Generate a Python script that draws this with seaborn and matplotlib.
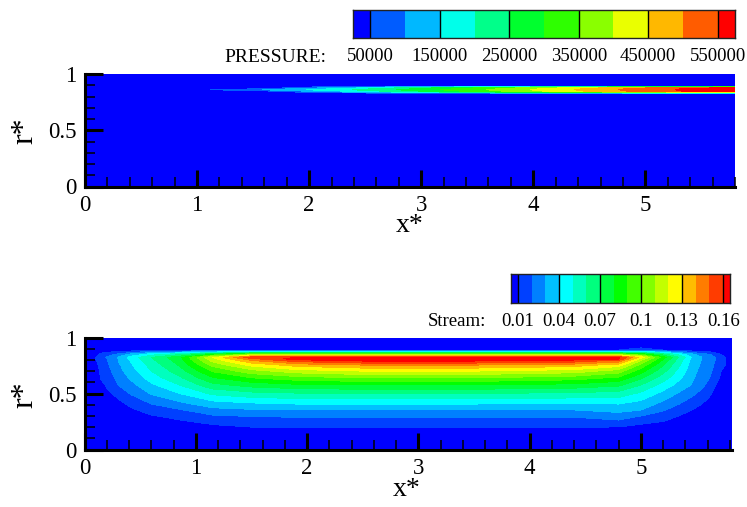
import numpy as np
import matplotlib
matplotlib.use("Agg")
import matplotlib.pyplot as plt
from matplotlib.colors import ListedColormap, BoundaryNorm
import seaborn as sns

# --- values ---
press_levels = [50000, 100000, 150000, 200000, 250000, 300000, 350000,
                400000, 450000, 500000, 550000]
press_labels = [50000, 150000, 250000, 350000, 450000, 550000]

stream_levels = [0.01, 0.02, 0.03, 0.04, 0.05, 0.06, 0.07, 0.08,
                 0.09, 0.10, 0.11, 0.12, 0.13, 0.14, 0.15, 0.16]
stream_labels = [0.01, 0.04, 0.07, 0.1, 0.13, 0.16]

press_x = [0, 1.0, 1.12, 1.58, 1.97, 2.38, 2.78, 3.17, 3.58, 3.97, 4.37, 4.76, 5.27, 5.82]
press_r = [0, 0.825, 0.845, 0.86, 0.875, 0.895, 1.0]
press_ridge = [0, 30000, 50000, 100000, 150000, 200000, 250000, 300000,
               350000, 400000, 450000, 500000, 550000, 590000]
press_side = [0, 0, 0, 20000, 90000, 150000, 210000, 270000,
              325000, 380000, 435000, 490000, 545000, 585000]
press_zero = [0, 0, 0, 0, 0, 0, 0, 0, 0, 0, 0, 0, 0, 0]

stream_r = [0, .195, .288, .353, .406, .5, .576, .64, .70, .754, .79, .81, .823, .85, .87, .888, 1.0]
stream_x = [0, 0.1, 0.15, 0.2, 0.3, 0.42, 0.6, 0.85, 1.15, 1.5, 1.9, 2.5, 3.5, 4.4, 4.8,
            5.0, 5.2, 5.45, 5.55, 5.62, 5.7, 5.76, 5.82]
# one row per stream_x, one column per stream_r
stream_vals = [
    [0, 0, 0, 0, 0, 0, 0, 0, 0, 0, 0, 0, 0, 0, 0, 0, 0],
    [0, 0, 0, 0, 0, 0, 0, 0, .004, .007, .009, .010, .010, .008, .003, 0, 0],
    [0, 0, 0, 0, 0, .002, .006, .012, .013, .014, .015, .016, .016, .012, .008, .002, 0],
    [0, 0, 0, 0, 0, .007, .012, .014, .016, .018, .019, .020, .021, .016, .009, .002, 0],
    [0, 0, 0, .002, .006, .014, .020, .023, .026, .028, .030, .030, .031, .022, .012, .003, 0],
    [0, 0, .002, .008, .013, .021, .027, .032, .036, .039, .041, .043, .044, .033, .017, .004, 0],
    [0, 0, .008, .015, .020, .031, .038, .045, .050, .054, .057, .059, .060, .045, .025, .007, 0],
    [0, .004, .012, .019, .027, .040, .050, .058, .065, .071, .074, .076, .077, .058, .030, .008, 0],
    [0, .007, .017, .027, .035, .052, .067, .079, .091, .103, .112, .117, .120, .080, .040, .010, 0],
    [0, .0095, .019, .029, .038, .057, .074, .090, .106, .123, .137, .148, .158, .100, .050, .010, 0],
    [0, .010, .020, .030, .040, .059, .078, .096, .115, .134, .153, .165, .160, .100, .050, .010, 0],
    [0, .010, .020, .030, .040, .060, .080, .100, .120, .140, .160, .168, .160, .100, .050, .010, 0],
    [0, .010, .020, .030, .040, .060, .080, .100, .120, .140, .160, .168, .160, .100, .050, .010, 0],
    [0, .0095, .020, .030, .039, .058, .077, .095, .115, .135, .155, .166, .160, .100, .050, .010, 0],
    [0, .009, .024, .033, .040, .056, .072, .088, .105, .125, .145, .162, .162, .100, .050, .010, 0],
    [0, .006, .018, .030, .036, .048, .060, .072, .084, .097, .108, .117, .127, .090, .050, .012, 0],
    [0, .004, .014, .021, .027, .037, .046, .055, .063, .071, .077, .081, .085, .065, .036, .010, 0],
    [0, 0, .005, .0105, .015, .023, .030, .033, .035, .037, .038, .039, .041, .034, .018, .004, 0],
    [0, 0, .001, .006, .010, .017, .022, .024, .026, .028, .029, .030, .030, .024, .012, .003, 0],
    [0, 0, 0, .001, .005, .012, .017, .020, .022, .024, .025, .026, .026, .020, .011, .003, 0],
    [0, 0, 0, 0, 0, .002, .007, .011, .013, .015, .016, .017, .017, .012, .005, .001, 0],
    [0, 0, 0, 0, 0, 0, 0, .002, .005, .010, .011, .011, .010, .005, .001, 0, 0],
    [0, 0, 0, 0, 0, 0, 0, 0, 0, 0, 0, 0, 0, 0, 0, 0, 0],
]

press_table = np.array([press_zero, press_zero, press_side, press_ridge,
                        press_side, press_zero, press_zero])
stream_table = np.array(stream_vals).T

sns.set_style("ticks")
plt.rcParams["font.family"] = ["Liberation Serif", "DejaVu Serif"]
plt.rcParams["axes.linewidth"] = 2.2
plt.rcParams["axes.edgecolor"] = "black"
plt.rcParams["xtick.color"] = "black"
plt.rcParams["ytick.color"] = "black"
plt.rcParams["text.color"] = "black"

W, H = 747, 507


def px_axes(fig, left, top, right, bottom):
    return fig.add_axes([left / W, 1 - bottom / H, (right - left) / W, (bottom - top) / H])


def rainbow(n):
    return sns.blend_palette(["#0000ff", "#00ffff", "#00ff00", "#ffff00", "#ff0000"], n)


def campo(ax, x, r, z, levels, xmax):
    # fundo azul + faixas, sem antialias como no original
    lv = [-1e9] + list(levels) + [1e9]
    ax.contourf(x, r, z, levels=lv, colors=rainbow(len(levels) + 1), antialiased=False)
    ax.set_axisbelow(False)
    ax.set_xlim(0, xmax)
    ax.set_ylim(0, 1)
    ax.set_xticks([0, 1, 2, 3, 4, 5])
    ax.set_xticks(np.arange(0.2, 5.81, 0.2), minor=True)
    ax.set_yticks([0, 0.5, 1])
    ax.set_yticklabels(["0", "0.5", "1"])
    ax.set_yticks(np.arange(0.1, 1.0, 0.1), minor=True)
    ax.tick_params(axis="x", which="major", direction="in", length=12, width=2.2, pad=6, labelsize=16.5,
                   labelcolor="black")
    ax.tick_params(axis="y", which="major", direction="in", length=13, width=2.2, pad=6, labelsize=16.5,
                   labelcolor="black")
    ax.tick_params(which="minor", direction="in", length=7, width=1.1)
    sns.despine(ax=ax)


def barra(ax, levels, labels, fmt):
    # barra de cores: meias celulas nas pontas, uma coluna do heatmap por meia celula
    step = levels[1] - levels[0]
    n_half = 2 * (len(levels) + 1) - 2
    start = levels[0] - step / 2
    mids = [[start + (i + 0.5) * step / 2 for i in range(n_half)]]
    edges = [-1e9] + list(levels) + [1e9]
    cmap = ListedColormap(rainbow(len(levels) + 1))
    sns.heatmap(mids, ax=ax, cmap=cmap, norm=BoundaryNorm(edges, cmap.N), cbar=False,
                xticklabels=False, yticklabels=False)
    pos = [(v - start) / (step / 2) for v in labels]
    ax.vlines(pos, 0, 1, color="black", lw=1.0)
    ax.set_xticks(pos)
    ax.set_xticklabels([fmt(v) for v in labels])
    ax.tick_params(axis="x", length=0, pad=7.5, labelsize=13.5, bottom=True, labelcolor="black")
    for s in ax.spines.values():
        s.set_visible(True)
        s.set_linewidth(1.0)
        s.set_color("#222222")


fig = plt.figure(figsize=(W / 100, H / 100), dpi=100)

ax1 = px_axes(fig, 85, 74, 735, 186.5)
campo(ax1, press_x, press_r, press_table, press_levels, 5.8)
ax2 = px_axes(fig, 84.7, 337.5, 732, 449.5)
campo(ax2, stream_x, stream_r, stream_table, stream_levels, 5.82)

bar1 = px_axes(fig, 353, 10, 735, 38)
barra(bar1, press_levels, press_labels, lambda v: str(v))
bar2 = px_axes(fig, 511, 274, 730, 303)
barra(bar2, stream_levels, stream_labels, lambda v: str(v))

fig.text(224 / W, 1 - 57 / H, "PRESSURE:", fontsize=14, va="center", ha="left")
fig.text(428 / W, 1 - 322 / H, "Stream:", fontsize=13.5, va="center", ha="left")

fig.text(410 / W, 1 - 226 / H, "x*", fontsize=20, va="center", ha="center")
fig.text(407 / W, 1 - 490 / H, "x*", fontsize=20, va="center", ha="center")
fig.text(25 / W, 1 - 131 / H, "r*", fontsize=23, va="center", ha="center", rotation=90)
fig.text(25 / W, 1 - 395 / H, "r*", fontsize=23, va="center", ha="center", rotation=90)

fig.savefig("out.png", dpi=100)
